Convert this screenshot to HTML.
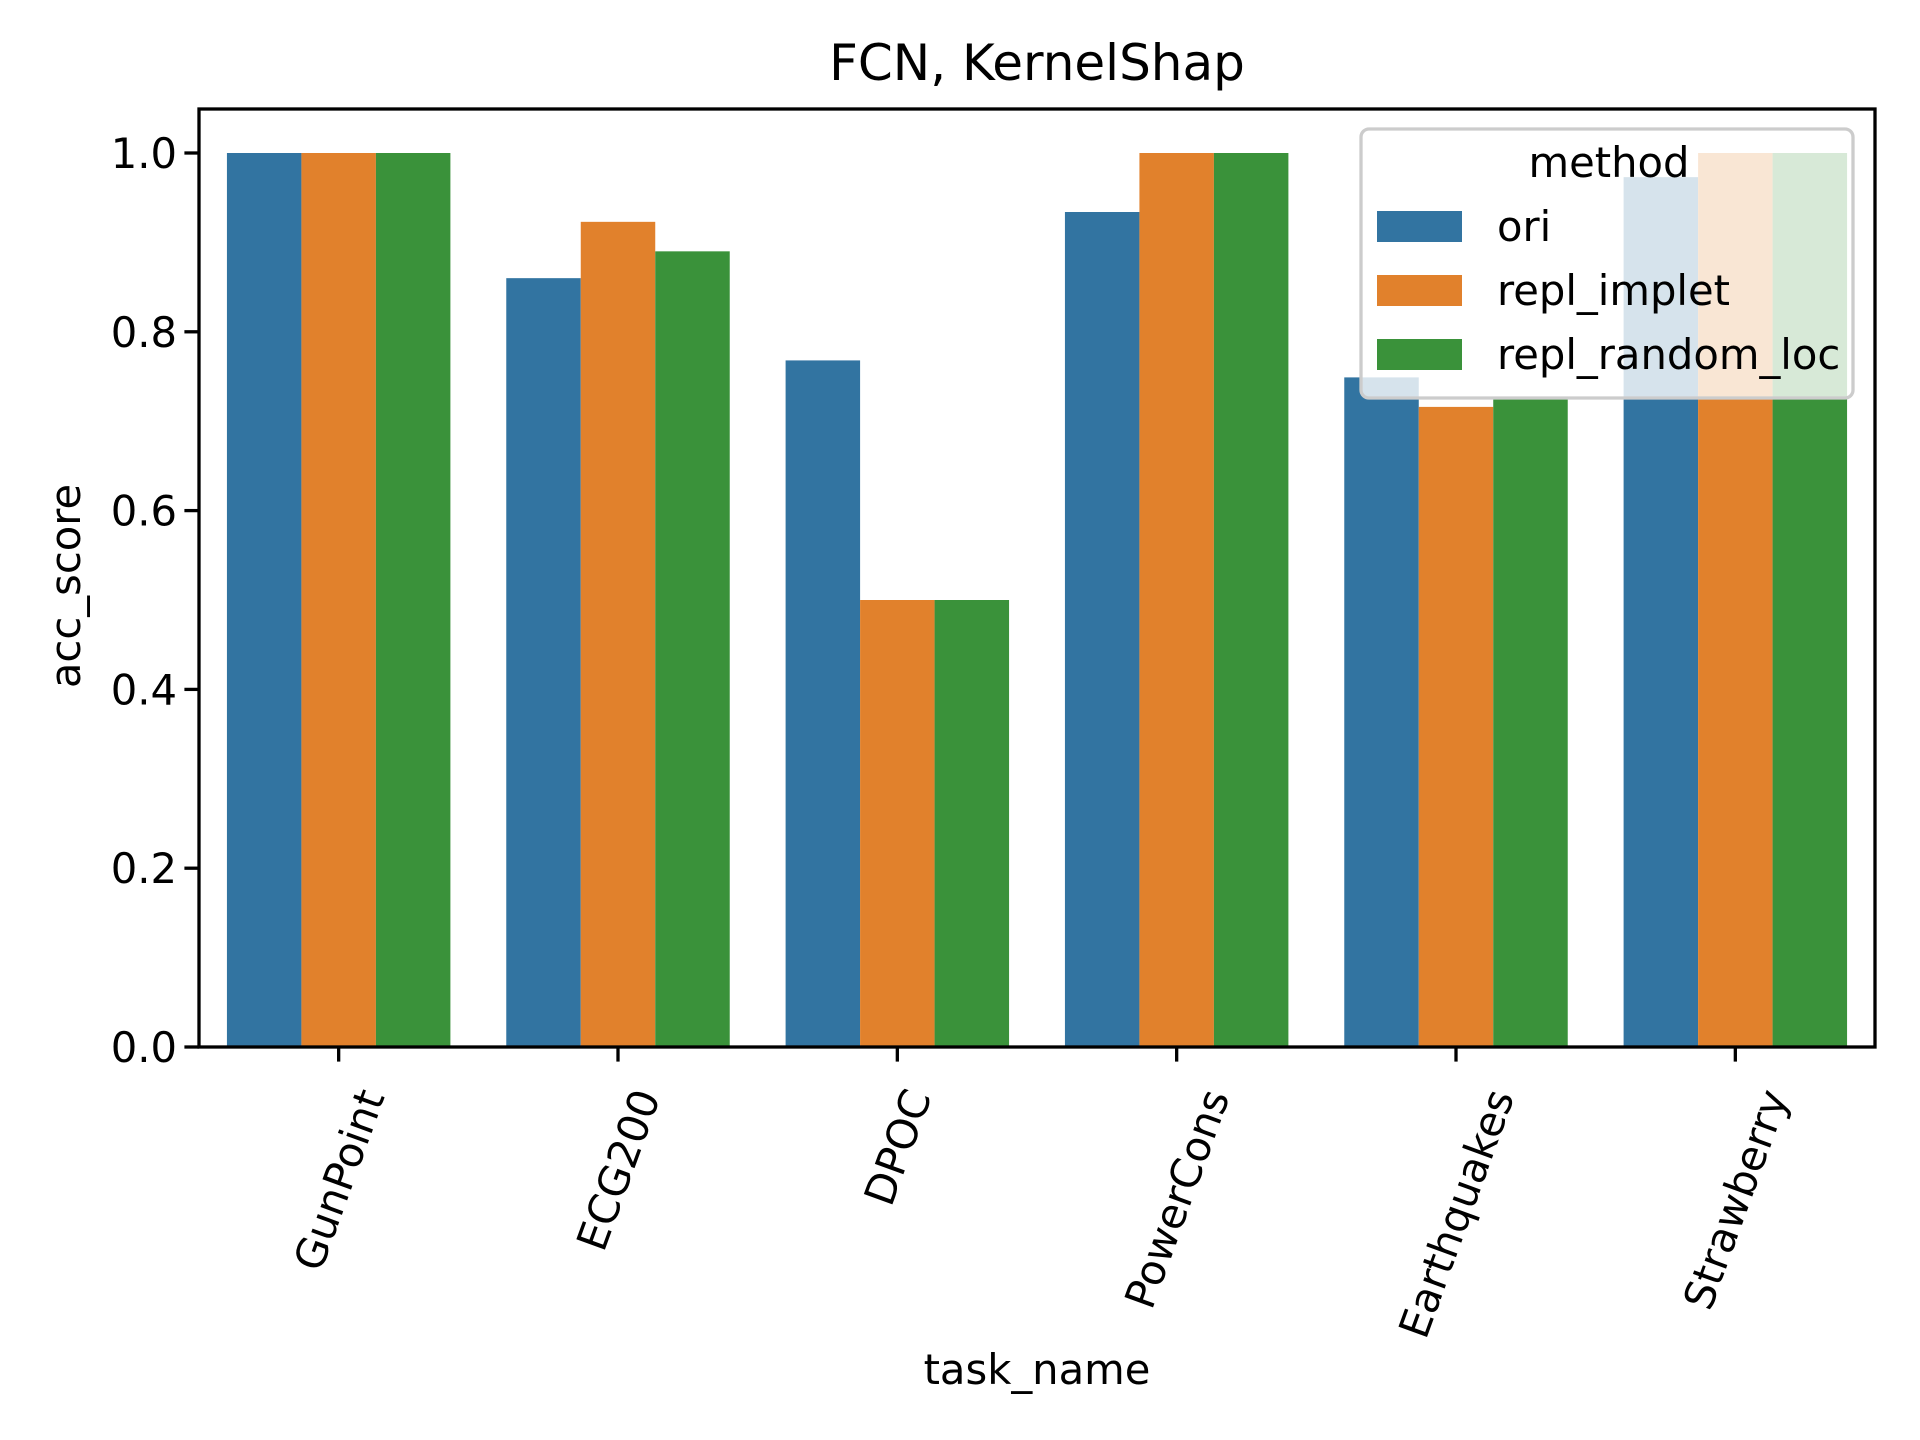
<!DOCTYPE html>
<html><head><meta charset="utf-8"><style>
html,body{margin:0;padding:0;background:#fff;}
svg{display:block;font-family:"DejaVu Sans","Liberation Sans",sans-serif;}
</style></head><body>
<svg id="chart" width="1920" height="1440" viewBox="0 0 1920 1440" xmlns="http://www.w3.org/2000/svg">
<rect width="1920" height="1440" fill="#fff"/>
<g id="bars"></g>
<g id="axes"></g>
<g id="legend"></g>
</svg>
<script>
const categories = ["GunPoint","ECG200","DPOC","PowerCons","Earthquakes","Strawberry"];
const seriesNames = ["ori","repl_implet","repl_random_loc"];
const oriValues = [1.0,0.86,0.768,0.934,0.749,0.973];
const impletValues = [1.0,0.923,0.5,1.0,0.716,1.0];
const randomLocValues = [1.0,0.89,0.5,1.0,0.727,1.0];
const yTicks = [0.0,0.2,0.4,0.6,0.8,1.0];
const yTickLabels = ["0.0","0.2","0.4","0.6","0.8","1.0"];

const colors = ["#3274a1","#e1812c","#3a923a"];
const series = [oriValues, impletValues, randomLocValues];
const L=199,R=1875,T=109,B=1047;
const NS="http://www.w3.org/2000/svg";
function y(v){return B-(v)*(B-153);}
function xc(i){return L+(R-L)/categories.length*(i+0.5);}
const bw=(R-L)/categories.length*0.8/3;
function mk(tag,attrs,parent,text){const e=document.createElementNS(NS,tag);for(const k in attrs)e.setAttribute(k,attrs[k]);if(text!==undefined)e.textContent=text;parent.appendChild(e);return e;}
const gb=document.getElementById('bars');
series.forEach((vals,s)=>{vals.forEach((v,i)=>{
  const x0=xc(i)-1.5*bw+s*bw;
  const r=mk('rect',{x:x0,y:y(v),width:bw,height:B-y(v),fill:colors[s]},gb);
  
  
});});
const ga=document.getElementById('axes');
const fr=mk('rect',{x:L,y:T,width:R-L,height:B-T,fill:'none',stroke:'#000','stroke-width':3.3},ga);


yTicks.forEach((t,i)=>{
  mk('line',{x1:L-14.6,x2:L,y1:y(t),y2:y(t),stroke:'#000','stroke-width':3.3},ga);
  const tx=mk('text',{x:L-22,y:y(t)+15,'text-anchor':'end','font-size':41.7},ga,yTickLabels[i]);
  
  
});
const s70=Math.sin(70*Math.PI/180), c70=Math.cos(70*Math.PI/180);
categories.forEach((c,i)=>{
  const x=xc(i);
  mk('line',{x1:x,x2:x,y1:B,y2:B+14.6,stroke:'#000','stroke-width':3.3},ga);
  const tx=mk('text',{x:0,y:0,'text-anchor':'middle','font-size':41.7},ga,c);
  const w=tx.getComputedTextLength();
  const h=30;
  const cy=1086+(w*s70+h*c70)/2;
  tx.setAttribute('x',x);
  tx.setAttribute('y',cy+15);
  tx.setAttribute('transform',`rotate(-70 ${x} ${cy})`);
  
  
});
const title=mk('text',{x:1037,y:80,'text-anchor':'middle','font-size':50},ga,'FCN, KernelShap');


const xt=mk('text',{x:1037,y:1384,'text-anchor':'middle','font-size':41.7},ga,'task_name');


const yt=mk('text',{x:80,y:586,'text-anchor':'middle','font-size':41.7,transform:'rotate(-90 80 586)'},ga,'acc_score');


const gl=document.getElementById('legend');
const lb=mk('rect',{x:1361,y:129,width:492,height:269,rx:8,fill:'#fff','fill-opacity':0.8,stroke:'#ccc','stroke-width':3.3},gl);


const lt=mk('text',{x:1609,y:177,'text-anchor':'middle','font-size':41.7},gl,'method');


const rowC=[226,290,354];
seriesNames.forEach((n,s)=>{
  const g=mk('g',{},gl);
  
  
  mk('rect',{x:1377,y:rowC[s]-15,width:85,height:31,fill:colors[s]},g);
  mk('text',{x:1497,y:rowC[s]+15,'font-size':41.7},g,n);
});
</script>
</body></html>
